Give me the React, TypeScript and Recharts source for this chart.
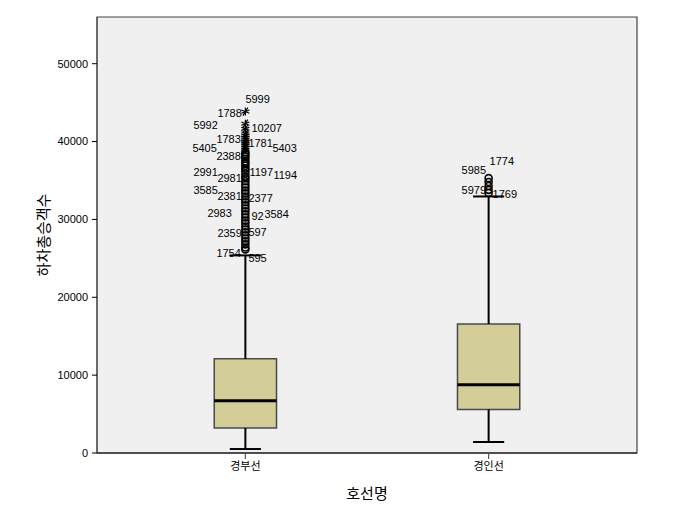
import React from 'react';
import {
  ComposedChart,
  XAxis,
  YAxis,
  CartesianGrid,
  Scatter,
  ReferenceArea,
  ReferenceLine,
} from 'recharts';

// line names and the five-number summary of each box
const categories = ['경부선', '경인선'];
const lowerWhisker = [510, 1410];
const q1 = [3200, 5600];
const median = [6700, 8760];
const q3 = [12090, 16580];
const upperWhisker = [25380, 32950];

// circles (outliers) and stars (extremes)
const outliers1 = [
  38600, 38350, 38100, 37800, 37450, 37200, 36900, 36550, 36300, 35900, 35500, 35250,
  34900, 34500, 34100, 33700, 33350, 32950, 32550, 32200, 31800, 31400, 31050, 30650,
  30250, 29850, 29500, 29100, 28700, 28350, 27950, 27550, 27200, 26800, 26400, 26150,
];
const extremes1 = [43850, 42300, 41650, 41050, 40800, 40500, 40250, 40000, 39750, 39500, 39200, 38950];
const outliers2 = [35300, 34800, 34300, 33800, 33400];

// case numbers printed beside the points
const labelIds1 = [
  '5999', '1788', '5992', '10207', '1783', '1781', '5405', '5403', '2388', '2991', '2981', '1197',
  '1194', '3585', '2381', '2377', '2983', '92', '3584', '2359', '597', '1754', '595',
];
const labelValues1 = [
  45510, 43590, 42050, 41670, 40260, 39740, 39100, 39100, 38080, 36030, 35260, 36030,
  35640, 33720, 32950, 32690, 30770, 30380, 30640, 28200, 28330, 25640, 25000,
];
const labelIds2 = ['1774', '5985', '5979', '1769'];
const labelValues2 = [37440, 36280, 33720, 33210];

const yTicks = [0, 10000, 20000, 30000, 40000, 50000];

// horizontal nudge of each case label from its column (pixels)
const labelDx: Record<string, number> = {
  '5999': 0, '1788': -28, '5992': -52, '10207': 6, '1783': -29, '1781': 3, '5405': -53,
  '5403': 27, '2388': -29, '2991': -52, '2981': -28, '1197': 4, '1194': 28, '3585': -52,
  '2381': -28, '2377': 3, '2983': -38, '92': 6, '3584': 19, '2359': -28, '597': 3,
  '1754': -29, '595': 3, '1774': 1, '5985': -27, '5979': -27, '1769': 4,
};

const BOX_HALF = 0.128;
const CAP_HALF = 0.064;
const X_DOMAIN: [number, number] = [0.39, 2.61];
const Y_DOMAIN: [number, number] = [0, 56000];

const latin = '"Liberation Sans", Arial, sans-serif';
const korean = '"Noto Sans CJK KR", "Noto Sans", sans-serif';

const circleData = [
  ...outliers1.map(v => ({ x: 1, y: v })),
  ...outliers2.map(v => ({ x: 2, y: v })),
];
const starData = extremes1.map(v => ({ x: 1, y: v }));
const labelData = [
  ...labelIds1.map((id, i) => ({ x: 1, y: labelValues1[i], id })),
  ...labelIds2.map((id, i) => ({ x: 2, y: labelValues2[i], id })),
];

const CircleMark = (props: any) => {
  const { cx, cy } = props;
  if (cx == null || cy == null) return null;
  return <circle cx={cx} cy={cy} r={3.5} fill="none" stroke="#000" strokeWidth={1.6} />;
};

const StarMark = (props: any) => {
  const { cx, cy } = props;
  if (cx == null || cy == null) return null;
  const s = 4;
  return (
    <g stroke="#000" strokeWidth={1.2}>
      <line x1={cx} y1={cy - s} x2={cx} y2={cy + s} />
      <line x1={cx - s} y1={cy - s * 0.4} x2={cx + s} y2={cy + s * 0.4} />
      <line x1={cx - s} y1={cy + s * 0.4} x2={cx + s} y2={cy - s * 0.4} />
      <line x1={cx - s * 0.6} y1={cy + s} x2={cx + s * 0.6} y2={cy - s} />
    </g>
  );
};

const CaseLabel = (props: any) => {
  const { cx, cy, payload } = props;
  if (cx == null || cy == null) return null;
  return (
    <text
      x={cx + (labelDx[payload.id] ?? 4)}
      y={cy}
      dy="0.35em"
      textAnchor="start"
      fontFamily={latin}
      fontSize={11}
      fill="#000"
    >
      {payload.id}
    </text>
  );
};

const YTitle = (props: any) => {
  const vb = props.viewBox || {};
  const x = (vb.x ?? 37) + 5;
  const y = (vb.y ?? 17) + (vb.height ?? 436) / 2;
  return (
    <text
      x={x}
      y={y}
      transform={`rotate(-90, ${x}, ${y})`}
      textAnchor="middle"
      dominantBaseline="central"
      fontFamily={korean}
      fontSize={15}
      fill="#000"
    >
      하차총승객수
    </text>
  );
};

const XTitle = (props: any) => {
  const vb = props.viewBox || {};
  const x = (vb.x ?? 97) + (vb.width ?? 540) / 2;
  const y = (vb.y ?? 453) + 39;
  return (
    <text x={x} y={y} textAnchor="middle" dominantBaseline="central" fontFamily={korean} fontSize={15} fill="#000">
      호선명
    </text>
  );
};

export default function App() {
  return (
    <div style={{ position: 'absolute', left: 0, top: 0, background: '#fff' }}>
      <ComposedChart width={677} height={518} margin={{ top: 17, right: 40, bottom: 35, left: 37 }}>
        <CartesianGrid fill="#f0f0f0" horizontal={false} vertical={false} />
        <XAxis
          type="number"
          dataKey="x"
          domain={X_DOMAIN}
          ticks={[1, 2]}
          allowDataOverflow
          tickFormatter={(v: number) => categories[v - 1] ?? ''}
          height={30}
          tickSize={6}
          tickMargin={3}
          axisLine={{ stroke: '#000', strokeWidth: 1.2 }}
          tickLine={{ stroke: '#555', strokeWidth: 1.2 }}
          tick={{ fill: '#000', fontSize: 11, fontFamily: korean }}
          label={{ content: <XTitle /> }}
        />
        <YAxis
          type="number"
          dataKey="y"
          domain={Y_DOMAIN}
          ticks={yTicks}
          allowDataOverflow
          width={60}
          tickSize={5}
          tickMargin={4}
          axisLine={{ stroke: '#555', strokeWidth: 1.2 }}
          tickLine={{ stroke: '#000' }}
          tick={{ fill: '#000', fontSize: 11, fontFamily: latin }}
          label={{ content: <YTitle /> }}
        />

        {categories.map((c, i) => {
          const x = i + 1;
          return (
            <React.Fragment key={c}>
              <ReferenceLine
                segment={[{ x, y: lowerWhisker[i] }, { x, y: q1[i] }]}
                stroke="#000"
                strokeWidth={2}
              />
              <ReferenceLine
                segment={[{ x, y: q3[i] }, { x, y: upperWhisker[i] }]}
                stroke="#000"
                strokeWidth={2}
              />
              <ReferenceLine
                segment={[{ x: x - CAP_HALF, y: lowerWhisker[i] }, { x: x + CAP_HALF, y: lowerWhisker[i] }]}
                stroke="#000"
                strokeWidth={2}
              />
              <ReferenceLine
                segment={[{ x: x - CAP_HALF, y: upperWhisker[i] }, { x: x + CAP_HALF, y: upperWhisker[i] }]}
                stroke="#000"
                strokeWidth={2}
              />
              <ReferenceArea
                x1={x - BOX_HALF}
                x2={x + BOX_HALF}
                y1={q1[i]}
                y2={q3[i]}
                fill="#d3ce97"
                fillOpacity={1}
                stroke="#4a4a4a"
                strokeWidth={1.5}
              />
              <ReferenceLine
                segment={[{ x: x - BOX_HALF, y: median[i] }, { x: x + BOX_HALF, y: median[i] }]}
                stroke="#000"
                strokeWidth={3}
              />
            </React.Fragment>
          );
        })}

        <ReferenceArea
          x1={X_DOMAIN[0]}
          x2={X_DOMAIN[1]}
          y1={Y_DOMAIN[0]}
          y2={Y_DOMAIN[1]}
          fill="none"
          stroke="#444"
          strokeWidth={1.2}
        />

        <Scatter data={circleData} shape={<CircleMark />} isAnimationActive={false} />
        <Scatter data={starData} shape={<StarMark />} isAnimationActive={false} />
        <Scatter data={labelData} shape={<CaseLabel />} isAnimationActive={false} />
      </ComposedChart>
    </div>
  );
}
